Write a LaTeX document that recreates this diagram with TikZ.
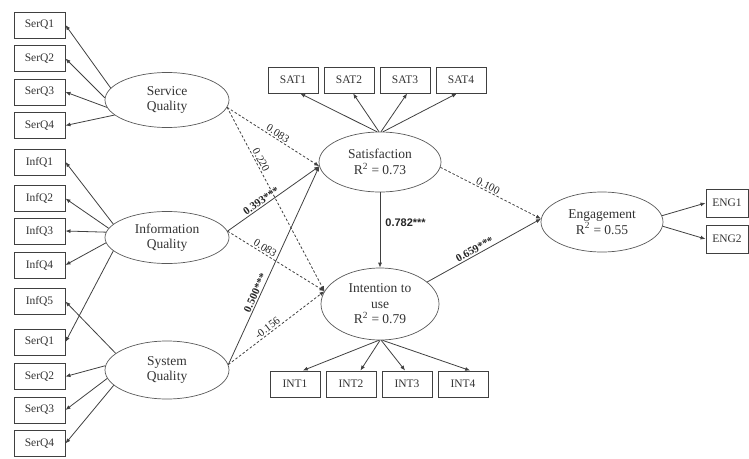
\documentclass[tikz,border=0pt]{standalone}
\usepackage{fontspec}
\setmainfont{Liberation Serif}
\setsansfont{Liberation Sans}
\usetikzlibrary{shapes.geometric,arrows.meta}
\begin{document}
\begin{tikzpicture}[x=1pt,y=-1pt,
 ind/.style={draw=black!75, line width=0.9pt, minimum width=51pt, minimum height=26pt, inner sep=0pt, font=\fontsize{11.5}{13}\selectfont, text=black!80},
 lat/.style={ellipse, draw=black!65, line width=0.7pt, inner sep=0pt, align=center, font=\fontsize{13.5}{15.5}\selectfont, text=black!80},
 arr/.style={draw=black!75, line width=0.8pt, -{Latex[length=5pt,width=4pt]}},
 dsh/.style={arr, dash pattern=on 2.5pt off 2pt},
 lbl/.style={font=\fontsize{11}{12}\selectfont, text=black!85, sloped, above, inner sep=1.2pt},
 blbl/.style={lbl, font=\fontsize{11}{12}\selectfont\bfseries}
]
\useasboundingbox (0,0) rectangle (749,458);

% left indicator boxes
\node[ind] (b1)  at (39.5,25)    {SerQ1};
\node[ind] (b2)  at (39.5,58.5)  {SerQ2};
\node[ind] (b3)  at (39.5,92)    {SerQ3};
\node[ind] (b4)  at (39.5,125.5) {SerQ4};
\node[ind] (b5)  at (39.5,162)   {InfQ1};
\node[ind] (b6)  at (39.5,198.5) {InfQ2};
\node[ind] (b7)  at (39.5,231)   {InfQ3};
\node[ind] (b8)  at (39.5,265)   {InfQ4};
\node[ind] (b9)  at (39.5,301.5) {InfQ5};
\node[ind] (b10) at (39.5,342)   {SerQ1};
\node[ind] (b11) at (39.5,376.5) {SerQ2};
\node[ind] (b12) at (39.5,410)   {SerQ3};
\node[ind] (b13) at (39.5,443.5) {SerQ4};

% latent variables
\node[lat, minimum width=124pt, minimum height=55pt] (sq) at (167,100) {Service\\Quality};
\node[lat, minimum width=124pt, minimum height=52pt] (iq) at (167,237.5) {Information\\Quality};
\node[lat, minimum width=124pt, minimum height=58pt] (sy) at (167,370) {System\\Quality};
\node[lat, minimum width=122pt, minimum height=60pt] (sat) at (380,162) {Satisfaction\\R\textsuperscript{2} = 0.73};
\node[lat, minimum width=118pt, minimum height=72pt] (int) at (380,304) {Intention to\\use\\R\textsuperscript{2} = 0.79};
\node[lat, minimum width=122pt, minimum height=60pt] (eng) at (602,222) {Engagement\\R\textsuperscript{2} = 0.55};

% SAT / INT / ENG boxes
\node[ind, minimum width=50pt] (s1) at (293,80) {SAT1};
\node[ind, minimum width=50pt] (s2) at (349,80) {SAT2};
\node[ind, minimum width=50pt] (s3) at (405,80) {SAT3};
\node[ind, minimum width=50pt] (s4) at (461,80) {SAT4};
\node[ind, minimum width=50pt] (i1) at (295,384) {INT1};
\node[ind, minimum width=50pt] (i2) at (351,384) {INT2};
\node[ind, minimum width=50pt] (i3) at (407,384) {INT3};
\node[ind, minimum width=50pt] (i4) at (463,384) {INT4};
\node[ind, minimum width=42pt, minimum height=28pt] (e1) at (727,203) {ENG1};
\node[ind, minimum width=42pt, minimum height=28pt] (e2) at (727,239) {ENG2};

% measurement arrows
\draw[arr] (sq.168) -- (b1.east);
\draw[arr] (sq.178) -- (b2.east);
\draw[arr] (sq.187) -- (b3.east);
\draw[arr] (sq.196) -- (b4.east);
\draw[arr] (iq.166) -- (b5.east);
\draw[arr] (iq.171) -- (b6.east);
\draw[arr] (iq.175) -- (b7.east);
\draw[arr] (iq.185) -- (b8.east);
\draw[arr] (iq.194) -- (b10.east);
\draw[arr] (sy.162) -- (b9.east);
\draw[arr] (sy.176) -- (b11.east);
\draw[arr] (sy.188) -- (b12.east);
\draw[arr] (sy.196) -- (b13.east);

\draw[arr] (sat.96) -- (s1.-62);
\draw[arr] (sat.92) -- (s2.-73);
\draw[arr] (sat.88) -- (s3.-81);
\draw[arr] (sat.84) -- (s4.-107);
\draw[arr] (int.-92) -- (i1.60);
\draw[arr] (int.-90) -- (i2.55);
\draw[arr] (int.-88) -- (i3.98);
\draw[arr] (int.-86) -- (i4.62);
\draw[arr] (eng.6) -- (e1.west);
\draw[arr] (eng.-4) -- (e2.west);

% structural paths
\draw[dsh] (sq.-7) -- node[lbl, pos=0.52] {0.083} (sat.184);
\draw[dsh] (sq.-7) -- node[lbl, pos=0.3] {0.220} (int.167);
\draw[arr] (iq.6) -- node[blbl, pos=0.4] {0.393***} (sat.184);
\draw[dsh] (iq.6) -- node[lbl, pos=0.36] {0.083} (int.167);
\draw[arr] (sy.5) -- node[blbl, pos=0.35] {0.500***} (sat.184);
\draw[dsh] (sy.5) -- node[lbl, pos=0.44] {-0.156} (int.167);
\draw[arr] (sat.south) -- node[right, pos=0.4, inner sep=5pt, font=\sffamily\bfseries\fontsize{11}{12}\selectfont, text=black!85] {0.782***} (int.north);
\draw[dsh] (sat.-5) -- node[lbl, pos=0.45] {0.100} (eng.177);
\draw[arr] (int.25) -- node[blbl, pos=0.44] {0.659***} (eng.177);
\end{tikzpicture}
\end{document}
